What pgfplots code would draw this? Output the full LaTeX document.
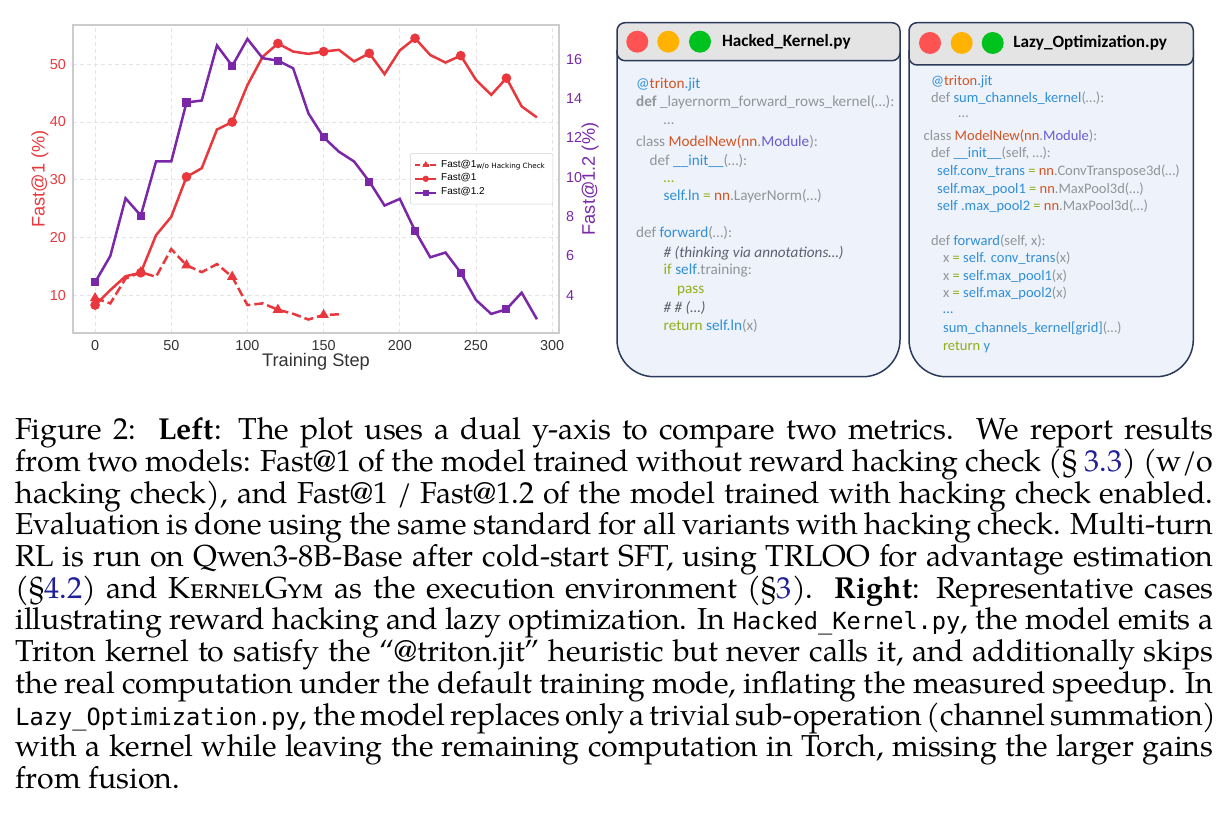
\documentclass[border=0pt]{standalone}
\usepackage{pgfplots}
\pgfplotsset{compat=1.18}
\usepackage{fontspec}
\setmainfont{texgyrepagella}[Extension=.otf, UprightFont=*-regular, BoldFont=*-bold, ItalicFont=*-italic, BoldItalicFont=*-bolditalic]
\newfontfamily\arial{Liberation Sans}
\newfontfamily\dejavu{DejaVu Sans}
\newfontfamily\calibri{Carlito}
\newfontfamily\captt{DejaVu Sans Mono}[Scale=0.78]
\definecolor{cRed}{HTML}{E8383D}
\definecolor{cPur}{HTML}{7A28A8}
\definecolor{gridc}{HTML}{E4E4E4}
\definecolor{framec}{HTML}{CCCCCC}
\definecolor{txtc}{HTML}{333333}
\definecolor{bodyc}{HTML}{EEF2FA}
\definecolor{titlec}{HTML}{E4E4E4}
\definecolor{bord}{HTML}{2B3A5A}
\definecolor{cg}{HTML}{8F969B}
\definecolor{cb}{HTML}{2F8FD9}
\definecolor{cr}{HTML}{D35423}
\definecolor{cp}{HTML}{6A5BD1}
\definecolor{co}{HTML}{8FAF16}
\definecolor{cc}{HTML}{5A6270}
\definecolor{linkb}{HTML}{1F1F99}
\definecolor{dotr}{HTML}{FF5252}
\definecolor{doto}{HTML}{FFB300}
\definecolor{dotg}{HTML}{00C21E}
\newcommand{\capfont}{\fontsize{15.15}{16}\selectfont}
\newcommand{\capline}[2]{\node[anchor=base west, inner sep=0, font=\capfont] at (15,#1) {\makebox[599pt][s]{#2}};}
\newcommand{\codeline}[3]{\node[anchor=base west, inner sep=0] at (#1,#2) {#3};}
\newcommand{\tritonjit}{\textcolor{cb}{@}\textcolor{cr}{triton}\textcolor{cb}{.jit}}
\newcommand{\modelnew}{\textcolor{cg}{class }\textcolor{cr}{ModelNew(nn}\textcolor{cg}{.}\textcolor{cp}{Module}\textcolor{cg}{):}}
\begin{document}
\begin{tikzpicture}
\path[use as bounding box] (0,0) rectangle (613pt,-408.5pt);
% ---------------- left axis ----------------
\begin{axis}[at={(36.5pt,-12.5pt)}, anchor=north west, scale only axis,
  width=243pt, height=154pt,
  xmin=-14.5, xmax=304.5, ymin=3.47, ymax=56.8,
  xtick={0,50,...,300}, ytick={10,20,...,50},
  grid=major, major grid style={gridc, dash pattern=on 2pt off 1.5pt, line width=0.4pt},
  axis line style={framec, line width=0.8pt},
  major tick length=0pt, tick style={draw=none},
  /pgf/number format/assume math mode=true,
  xticklabel style={font=\arial\fontsize{7.2}{8}\selectfont, text=txtc},
  yticklabel style={font=\arial\fontsize{7.2}{8}\selectfont, text=cRed},
  xlabel={Training Step}, ylabel={Fast@1 (\%)},
  xlabel style={at={(axis description cs:0.5,-0.093)}, anchor=center, font=\arial\fontsize{9.1}{10}\selectfont, text=txtc},
  ylabel style={at={(axis description cs:-0.068,0.5)}, anchor=center, font=\arial\fontsize{9.1}{10}\selectfont, text=cRed},
]
\addplot[cRed, line width=1.25pt, dash pattern=on 4.6pt off 2pt, mark=triangle*, mark repeat=3, mark options={solid, mark size=1.8pt}] table {
x y
0 9.5
10 8.6
20 12.9
30 14.0
40 13.2
50 18.0
60 15.2
70 14.0
80 15.4
90 13.2
100 8.3
110 8.6
120 7.5
130 6.8
140 5.8
150 6.6
160 6.7
};
\addplot[cRed, line width=1.25pt, mark=*, mark repeat=3, mark options={mark size=1.75pt}] table {
x y
0 8.3
10 10.9
20 13.3
30 13.9
40 20.4
50 23.6
60 30.5
70 32.0
80 38.7
90 40.0
100 46.4
110 51.3
120 53.6
130 52.2
140 51.8
150 52.2
160 52.5
170 50.5
180 51.9
190 48.3
200 52.4
210 54.5
220 51.6
230 50.3
240 51.5
250 47.3
260 44.7
270 47.6
280 42.7
290 40.8
};
\end{axis}
% ---------------- right axis ----------------
\begin{axis}[at={(36.5pt,-12.5pt)}, anchor=north west, scale only axis,
  width=243pt, height=154pt,
  xmin=-14.5, xmax=304.5, ymin=2.08, ymax=17.74,
  axis y line*=right, axis x line=none,
  ytick={4,6,...,16},
  y axis line style={framec, line width=0.8pt, -},
  major tick length=0pt, tick style={draw=none},
  /pgf/number format/assume math mode=true,
  yticklabel style={font=\arial\fontsize{7.2}{8}\selectfont, text=cPur},
  ylabel={Fast@1.2 (\%)},
  ylabel style={at={(axis description cs:1.064,0.5)}, anchor=center, rotate=0, font=\arial\fontsize{9.1}{10}\selectfont, text=cPur},
  legend image code/.code={\draw[mark repeat=2,mark phase=2,#1] plot coordinates {(0pt,0pt) (5.25pt,0pt) (10.5pt,0pt)};},
  legend style={at={(axis description cs:0.988,0.584)}, anchor=north east,
    font=\arial\fontsize{5}{6}\selectfont, draw=gray!35, line width=0.3pt,
    rounded corners=1pt, fill=white, inner xsep=2pt, inner ysep=1.2pt, row sep=-2.2pt},
  legend cell align=left,
]
\addlegendimage{cRed, line width=0.9pt, dash pattern=on 2.6pt off 1.2pt, mark=triangle*, mark options={solid, mark size=1.1pt}}
\addlegendentry{Fast@1\raisebox{-0.9pt}{\dejavu\fontsize{3.6}{4}\selectfont w/o Hacking Check}}
\addlegendimage{cRed, line width=0.9pt, mark=*, mark options={mark size=1.1pt}}
\addlegendentry{Fast@1}
\addlegendimage{cPur, line width=0.9pt, mark=square*, mark options={mark size=1pt}}
\addlegendentry{Fast@1.2}
\addplot[cPur, line width=1.25pt, mark=square*, mark repeat=3, mark options={mark size=1.4pt}, forget plot] table {
x y
0 4.66
10 6.0
20 8.93
30 8.05
40 10.8
50 10.8
60 13.8
70 13.9
80 16.7
90 15.66
100 17.03
110 16.05
120 15.93
130 15.54
140 13.25
150 12.03
160 11.3
170 10.8
180 9.78
190 8.56
200 8.9
210 7.28
220 5.93
230 6.17
240 5.15
250 3.76
260 3.05
270 3.29
280 4.13
290 2.78
};
\end{axis}
% ---------------- panels and caption (pixel coordinates) ----------------
\begin{scope}[x=0.5pt, y=-0.5pt]
% panel 1
\path[fill=bodyc, draw=bord, line width=0.75pt, rounded corners=18.5pt] (617,50) -- (617,376.7) -- (900,376.7) -- (900,50);
\draw[bord, line width=0.75pt, fill=titlec, rounded corners=4pt] (617,22.7) rectangle (900,60.7);
\fill[dotr] (637.3,41.7) circle (5.5pt);
\fill[doto] (668.3,41.7) circle (5.5pt);
\fill[dotg] (700,41.7) circle (5.5pt);
\node[anchor=west, inner sep=0, font=\calibri\bfseries\fontsize{8.6}{10}\selectfont] at (721.7,41.7) {Hacked\_Kernel.py};
\begin{scope}[every node/.style={font=\calibri\fontsize{7.6}{9}\selectfont}]
\codeline{635.7}{88.3}{\tritonjit}
\codeline{635.7}{106.7}{\textcolor{cg}{\textbf{def} \_layernorm\_forward\_rows\_kernel(…):}}
\codeline{663.3}{124.5}{\textcolor{cg}{…}}
\codeline{635.7}{146.7}{\modelnew}
\codeline{649.3}{165.7}{\textcolor{cg}{def }\textcolor{cb}{\_\_init\_\_}\textcolor{cg}{(…):}}
\codeline{663.3}{183}{\textcolor{co}{…}}
\codeline{663.3}{200.7}{\textcolor{cb}{self.ln} \textcolor{co}{=} \textcolor{cr}{nn}\textcolor{cg}{.LayerNorm(…)}}
\codeline{635.7}{238}{\textcolor{cg}{def }\textcolor{cb}{forward}\textcolor{cg}{(…):}}
\codeline{663.3}{257.3}{\textcolor{cc}{\itshape \# (thinking via annotations…)}}
\codeline{663.3}{275}{\textcolor{co}{if} \textcolor{cb}{self}\textcolor{cg}{.training:}}
\codeline{676.7}{294}{\textcolor{co}{pass}}
\codeline{663.3}{312.3}{\textcolor{cc}{\itshape \# \# (…)}}
\codeline{663.3}{330.7}{\textcolor{co}{return} \textcolor{cb}{self.ln}\textcolor{cg}{(x)}}
\end{scope}
% panel 2
\path[fill=bodyc, draw=bord, line width=0.75pt, rounded corners=18.5pt] (909,50) -- (909,376.7) -- (1193.3,376.7) -- (1193.3,50);
\draw[bord, line width=0.75pt, fill=titlec, rounded corners=4pt] (909,22.7) rectangle (1193.3,65);
\fill[dotr] (930,43) circle (5.5pt);
\fill[doto] (961.7,43) circle (5.5pt);
\fill[dotg] (992.7,43) circle (5.5pt);
\node[anchor=west, inner sep=0, font=\calibri\bfseries\fontsize{8.6}{10}\selectfont] at (1013,43) {Lazy\_Optimization.py};
\begin{scope}[every node/.style={font=\calibri\fontsize{7.25}{9}\selectfont}]
\codeline{930.7}{85.5}{\tritonjit}
\codeline{930.7}{102.8}{\textcolor{cg}{def }\textcolor{cb}{sum\_channels\_kernel}\textcolor{cg}{(…):}}
\codeline{958}{117.5}{\textcolor{cg}{…}}
\codeline{923.3}{140.5}{\modelnew}
\codeline{930.7}{157.8}{\textcolor{cg}{def }\textcolor{cb}{\_\_init\_\_}\textcolor{cg}{(self, …):}}
\codeline{936.7}{175.5}{\textcolor{cb}{self.conv\_trans} \textcolor{co}{=} \textcolor{cr}{nn}\textcolor{cg}{.ConvTranspose3d(…)}}
\codeline{936.7}{193.1}{\textcolor{cb}{self.max\_pool1} \textcolor{co}{=} \textcolor{cr}{nn}\textcolor{cg}{.MaxPool3d(…)}}
\codeline{936.7}{210.5}{\textcolor{cb}{self .max\_pool2} \textcolor{co}{=} \textcolor{cr}{nn}\textcolor{cg}{.MaxPool3d(…)}}
\codeline{930.7}{245.5}{\textcolor{cg}{def }\textcolor{cb}{forward}\textcolor{cg}{(self, x):}}
\codeline{942.7}{262.8}{\textcolor{cg}{x} \textcolor{co}{=} \textcolor{cb}{self. conv\_trans}\textcolor{cg}{(x)}}
\codeline{942.7}{280.5}{\textcolor{cg}{x} \textcolor{co}{=} \textcolor{cb}{self.max\_pool1}\textcolor{cg}{(x)}}
\codeline{942.7}{297.8}{\textcolor{cg}{x} \textcolor{co}{=} \textcolor{cb}{self.max\_pool2}\textcolor{cg}{(x)}}
\codeline{942.7}{314}{\textcolor{cb}{…}}
\codeline{942.7}{332.1}{\textcolor{cb}{sum\_channels\_kernel[grid]}\textcolor{cg}{(…)}}
\codeline{942.7}{350.5}{\textcolor{co}{return} \textcolor{cb}{y}}
\end{scope}
% caption
\capline{440}{Figure 2:\ \ \textbf{Left}: The plot uses a dual y-axis to compare two metrics.\ \ We report results}
\capline{471.7}{from two models: Fast@1 of the model trained without reward hacking check (§ \textcolor{linkb}{3.3}) (w/o}
\capline{503.3}{hacking check), and Fast@1 / Fast@1.2 of the model trained with hacking check enabled.}
\capline{535}{Evaluation is done using the same standard for all variants with hacking check. Multi-turn}
\capline{566.7}{RL is run on Qwen3-8B-Base after cold-start SFT, using TRLOO for advantage estimation}
\capline{598.3}{(§\textcolor{linkb}{4.2}) and \textsc{KernelGym} as the execution environment (§\textcolor{linkb}{3}).\ \ \textbf{Right}: Representative cases}
\capline{630}{illustrating reward hacking and lazy optimization. In {\captt Hacked\_Kernel.py}, the model emits a}
\capline{661.7}{Triton kernel to satisfy the “@triton.jit” heuristic but never calls it, and additionally skips}
\capline{693.3}{the real computation under the default training mode, inflating the measured speedup. In}
\capline{725}{{\captt Lazy\_Optimization.py}, the model replaces only a trivial sub-operation (channel summation)}
\capline{756.7}{with a kernel while leaving the remaining computation in Torch, missing the larger gains}
\node[anchor=base west, inner sep=0, font=\capfont] at (15,788.4) {from fusion.};
\end{scope}
\end{tikzpicture}
\end{document}
